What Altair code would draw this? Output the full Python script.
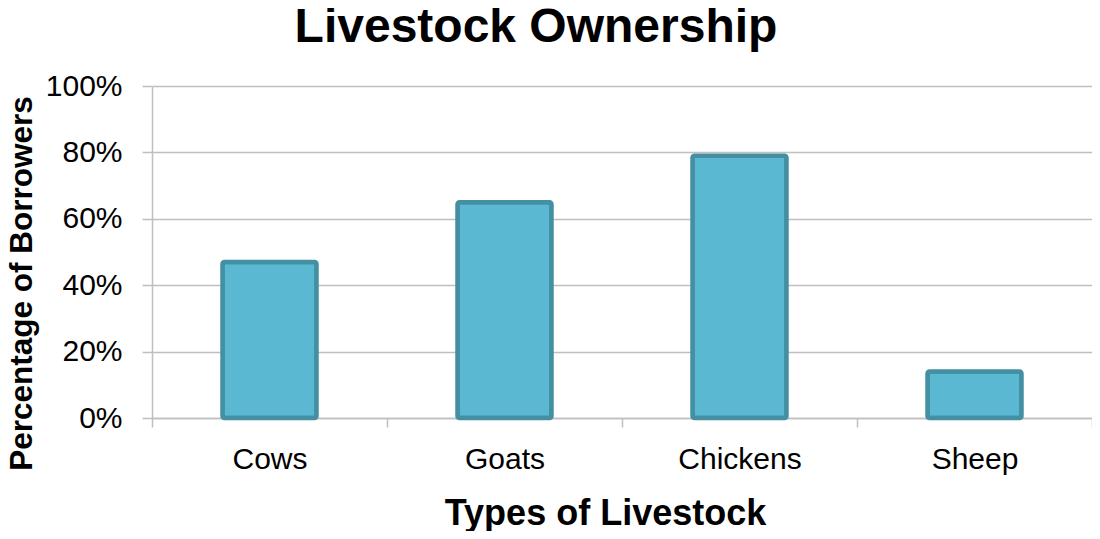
import altair as alt
import pandas as pd

categories = ["Cows", "Goats", "Chickens", "Sheep"]
values = [0.47, 0.65, 0.79, 0.14]
y_ticks = [0, 0.2, 0.4, 0.6, 0.8, 1.0]

df = pd.DataFrame({"Livestock": categories, "Share": values})

FONT = "Liberation Sans"
GRID = "#bfbfbf"

PLOT_LEFT = 144   # padding (page margin 8 is added)
PLOT_TOP = 78
W, H = 940, 332

chart = alt.Chart(df).mark_bar(
    color="#5bb8d2",
    stroke="#4490a2",
    strokeWidth=4.5,
    cornerRadius=2,
    width=alt.RelativeBandSize(0.4),
).encode(
    x=alt.X(
        "Livestock:N",
        sort=categories,
        scale=alt.Scale(paddingInner=0, paddingOuter=0),
        axis=alt.Axis(
            title="Types of Livestock",
            titleFont=FONT, titleFontSize=36, titleFontWeight="bold", titleColor="black",
            titleX=605 - 152, titleY=106, titleAlign="center", titleBaseline="alphabetic",
            labelFont=FONT, labelFontSize=30, labelColor="black", labelAngle=0,
            labelPadding=17, tickBand="extent", tickSize=9, tickColor=GRID, tickWidth=1.5,
            domainColor=GRID, domainWidth=1.5, grid=False,
        ),
    ),
    y=alt.Y(
        "Share:Q",
        scale=alt.Scale(domain=[0, 1], nice=False),
        axis=alt.Axis(
            title="Percentage of Borrowers",
            titleFont=FONT, titleFontSize=31.5, titleFontWeight="bold", titleColor="black",
            titleAngle=270, titleX=31 - 152, titleY=283 - 86, titleAlign="center",
            titleBaseline="alphabetic",
            values=y_ticks, format=".0%",
            labelFont=FONT, labelFontSize=30, labelColor="black",
            labelPadding=20, tickSize=10, tickColor=GRID, tickWidth=1.5,
            domainColor=GRID, domainWidth=1.5,
            gridColor=GRID, gridWidth=1.5,
        ),
    ),
).properties(
    width=W,
    height=H,
    title=alt.TitleParams(
        "Livestock Ownership", font=FONT, fontSize=48, fontWeight="bold", color="black",
        anchor="middle", dx=536 - (152 + W / 2), offset=19,
    ),
    autosize=alt.AutoSizeParams(type="none"),
    padding={"left": PLOT_LEFT, "top": PLOT_TOP, "right": 0, "bottom": 113},
).configure_view(stroke=None)

chart.save("out.html", embed_options={"renderer": "svg", "actions": False})
